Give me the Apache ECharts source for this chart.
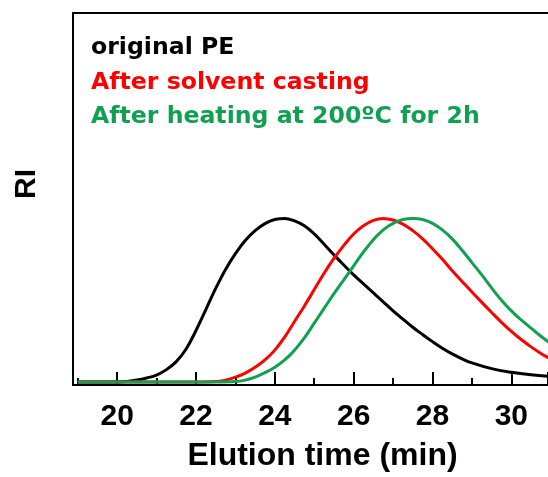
<!DOCTYPE html>
<html>
<head>
<meta charset="utf-8">
<script src="https://cdn.jsdelivr.net/npm/echarts@6/dist/echarts.min.js"></script>
<style>html,body{margin:0;padding:0;background:#fff;}#c{width:548px;height:477px;}</style>
</head>
<body>
<div id="c"></div>
<script>
// Series names
const seriesNames = ["original PE", "After solvent casting", "After heating at 200\u00baC for 2h"];
const seriesColors = ["#000000", "#ff0000", "#10a050"];

// Elution time (min), RI (normalized)
const originalPE = [
  [19.0, 0], [19.5, 0], [20.0, 0], [20.25, 0.004], [20.5, 0.012], [20.75, 0.025], [21.0, 0.043],
  [21.25, 0.076], [21.5, 0.125], [21.75, 0.202], [22.0, 0.315], [22.25, 0.443], [22.5, 0.572],
  [22.75, 0.688], [23.0, 0.785], [23.25, 0.865], [23.5, 0.925], [23.75, 0.968], [24.0, 0.993],
  [24.25, 1.0], [24.5, 0.985], [24.75, 0.955], [25.0, 0.905], [25.25, 0.842], [25.5, 0.777],
  [25.75, 0.715], [26.0, 0.655], [26.25, 0.60], [26.5, 0.545], [26.75, 0.49], [27.0, 0.435],
  [27.25, 0.385], [27.5, 0.335], [27.75, 0.29], [28.0, 0.247], [28.25, 0.207], [28.5, 0.172],
  [28.75, 0.142], [29.0, 0.117], [29.5, 0.082], [30.0, 0.06], [30.5, 0.045], [31.0, 0.035]
];
const solventCast = [
  [19.0, 0], [22.0, 0], [22.5, 0.003], [22.75, 0.012], [23.0, 0.03], [23.25, 0.055], [23.5, 0.09],
  [23.75, 0.135], [24.0, 0.195], [24.25, 0.275], [24.5, 0.37], [24.75, 0.465], [25.0, 0.565],
  [25.25, 0.665], [25.5, 0.755], [25.75, 0.835], [26.0, 0.905], [26.25, 0.955], [26.5, 0.988],
  [26.75, 1.0], [27.0, 0.99], [27.25, 0.965], [27.5, 0.925], [27.75, 0.875], [28.0, 0.815],
  [28.25, 0.75], [28.5, 0.68], [28.75, 0.615], [29.0, 0.55], [29.25, 0.487], [29.5, 0.425],
  [29.75, 0.365], [30.0, 0.31], [30.25, 0.26], [30.5, 0.215], [30.75, 0.175], [31.0, 0.14]
];
const heated200 = [
  [19.0, 0], [22.5, 0], [23.0, 0.003], [23.25, 0.012], [23.5, 0.03], [23.75, 0.058], [24.0, 0.09],
  [24.25, 0.135], [24.5, 0.195], [24.75, 0.27], [25.0, 0.36], [25.25, 0.45], [25.5, 0.54],
  [25.75, 0.625], [26.0, 0.71], [26.25, 0.795], [26.5, 0.87], [26.75, 0.93], [27.0, 0.97],
  [27.25, 0.993], [27.5, 1.0], [27.75, 0.993], [28.0, 0.97], [28.25, 0.93], [28.5, 0.875],
  [28.75, 0.805], [29.0, 0.73], [29.25, 0.655], [29.5, 0.575], [29.75, 0.50], [30.0, 0.435],
  [30.25, 0.38], [30.5, 0.33], [30.75, 0.28], [31.0, 0.235]
];

// Axis texts
const xAxisName = "Elution time (min)";
const yAxisName = "RI";

const chart = echarts.init(document.getElementById('c'), null, {renderer: 'canvas'});
const datasets = [originalPE, solventCast, heated200];
const xMin = 18.88, xMax = 30.93;

chart.setOption({
  animation: false,
  backgroundColor: '#fff',
  grid: {left: 73, top: 13, right: 0, bottom: 89},
  legend: {
    left: 81, top: 31, orient: 'vertical', icon: 'none', itemWidth: 0, itemHeight: 24,
    itemGap: 10.5, selectedMode: false,
    textStyle: {fontFamily: 'DejaVu Sans', fontWeight: 'bold', fontSize: 23.6, lineHeight: 24},
    data: seriesNames.map((n, i) => ({name: n, textStyle: {color: seriesColors[i]}}))
  },
  xAxis: [{
    type: 'value', min: xMin, max: xMax, splitNumber: 6,
    name: xAxisName, nameLocation: 'middle', nameGap: 55,
    nameTextStyle: {fontFamily: 'Liberation Sans, Arial', fontWeight: 'bold', fontSize: 32, color: '#000',
      padding: [0, 0, 0, 24]},
    axisLine: {show: true, onZero: false, lineStyle: {color: '#000', width: 2}},
    axisTick: {show: true, inside: true, length: 13, lineStyle: {color: '#000', width: 2}},
    minorTick: {show: true, splitNumber: 2, length: 7, lineStyle: {color: '#000', width: 2}},
    axisLabel: {
      margin: 17, showMinLabel: false, showMaxLabel: false,
      fontFamily: 'Liberation Sans, Arial', fontWeight: 'bold', fontSize: 30, color: '#000',
      formatter: v => (Math.abs(v - Math.round(v)) < 1e-6 ? String(Math.round(v)) : '')
    },
    splitLine: {show: false}, minorSplitLine: {show: false}
  }, {
    type: 'value', min: xMin, max: xMax, position: 'top',
    axisLine: {show: true, onZero: false, lineStyle: {color: '#000', width: 2}},
    axisTick: {show: false}, axisLabel: {show: false}, splitLine: {show: false}
  }],
  yAxis: {
    type: 'value', min: -0.018, max: 2.255,
    name: yAxisName, nameLocation: 'middle', nameGap: 31, nameRotate: 90,
    nameTextStyle: {fontFamily: 'Liberation Sans, Arial', fontWeight: 'bold', fontSize: 30, color: '#000',
      padding: [0, 0, 0, 30]},
    axisLine: {show: true, onZero: false, lineStyle: {color: '#000', width: 2}},
    axisTick: {show: false}, axisLabel: {show: false}, splitLine: {show: false}
  },
  series: datasets.map((d, i) => ({
    name: seriesNames[i], type: 'line', data: d, smooth: 0.4, showSymbol: false,
    xAxisIndex: 0,
    lineStyle: {color: seriesColors[i], width: 3}, itemStyle: {color: seriesColors[i]}, z: 2 + i
  }))
});
</script>
</body>
</html>
